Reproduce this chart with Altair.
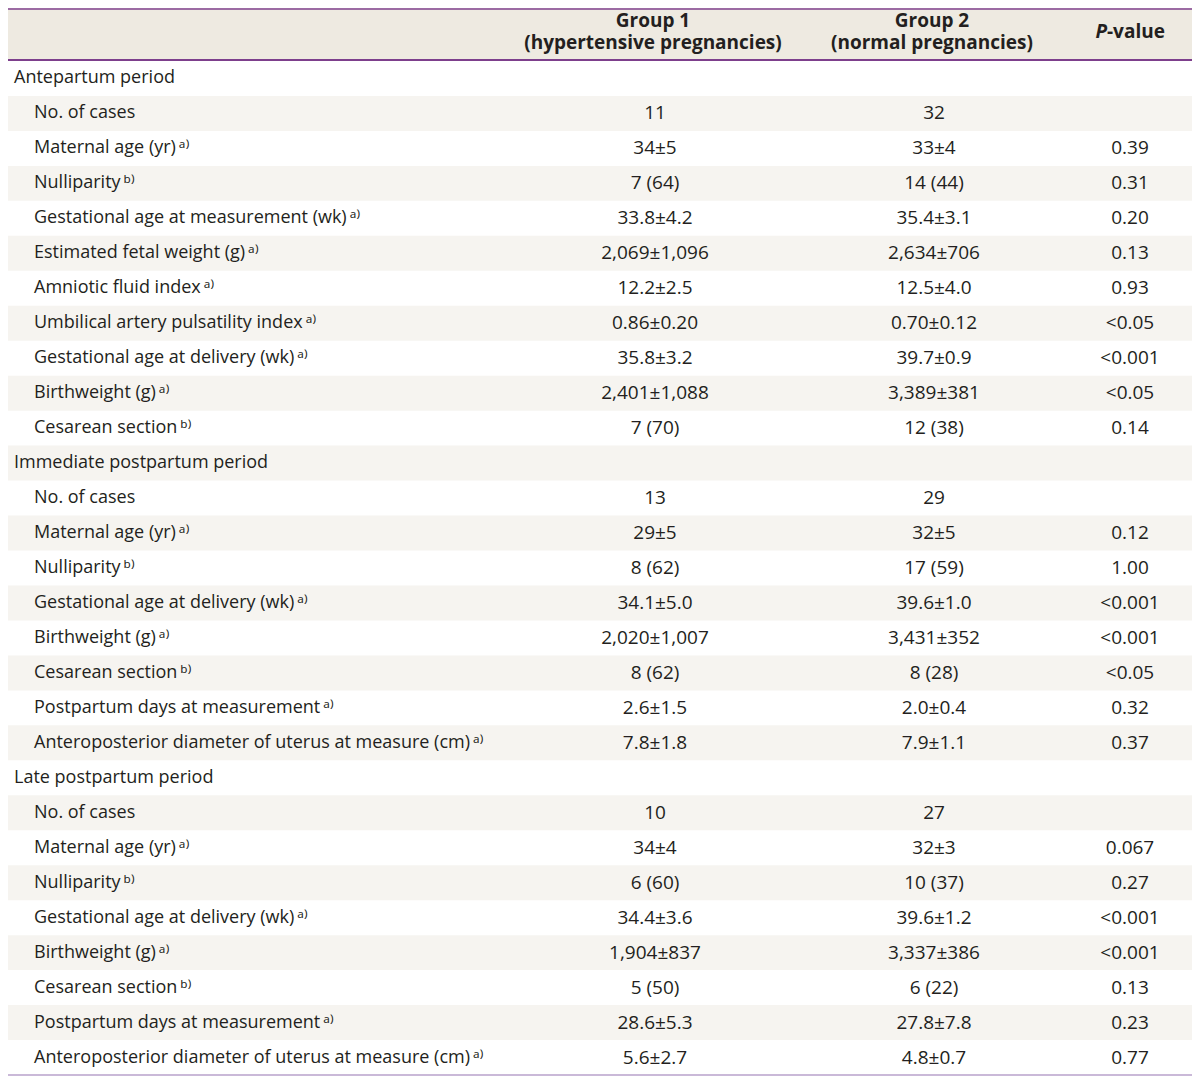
import altair as alt
import pandas as pd

# ---- table content ----
labels = [
    "Antepartum period",
    "No. of cases", "Maternal age (yr)", "Nulliparity", "Gestational age at measurement (wk)",
    "Estimated fetal weight (g)", "Amniotic fluid index", "Umbilical artery pulsatility index",
    "Gestational age at delivery (wk)", "Birthweight (g)", "Cesarean section",
    "Immediate postpartum period",
    "No. of cases", "Maternal age (yr)", "Nulliparity", "Gestational age at delivery (wk)",
    "Birthweight (g)", "Cesarean section", "Postpartum days at measurement",
    "Anteroposterior diameter of uterus at measure (cm)",
    "Late postpartum period",
    "No. of cases", "Maternal age (yr)", "Nulliparity", "Gestational age at delivery (wk)",
    "Birthweight (g)", "Cesarean section", "Postpartum days at measurement",
    "Anteroposterior diameter of uterus at measure (cm)",
]
levels = [0, 1, 1, 1, 1, 1, 1, 1, 1, 1, 1,
          0, 1, 1, 1, 1, 1, 1, 1, 1,
          0, 1, 1, 1, 1, 1, 1, 1, 1]
notes = ["", "", "a", "b", "a", "a", "a", "a", "a", "a", "b",
         "", "", "a", "b", "a", "a", "b", "a", "a",
         "", "", "a", "b", "a", "a", "b", "a", "a"]
group1 = ["", "11", "34±5", "7 (64)", "33.8±4.2", "2,069±1,096", "12.2±2.5", "0.86±0.20",
          "35.8±3.2", "2,401±1,088", "7 (70)",
          "", "13", "29±5", "8 (62)", "34.1±5.0", "2,020±1,007", "8 (62)", "2.6±1.5", "7.8±1.8",
          "", "10", "34±4", "6 (60)", "34.4±3.6", "1,904±837", "5 (50)", "28.6±5.3", "5.6±2.7"]
group2 = ["", "32", "33±4", "14 (44)", "35.4±3.1", "2,634±706", "12.5±4.0", "0.70±0.12",
          "39.7±0.9", "3,389±381", "12 (38)",
          "", "29", "32±5", "17 (59)", "39.6±1.0", "3,431±352", "8 (28)", "2.0±0.4", "7.9±1.1",
          "", "27", "32±3", "10 (37)", "39.6±1.2", "3,337±386", "6 (22)", "27.8±7.8", "4.8±0.7"]
pvalues = ["", "", "0.39", "0.31", "0.20", "0.13", "0.93", "<0.05", "<0.001", "<0.05", "0.14",
           "", "", "0.12", "1.00", "<0.001", "<0.001", "<0.05", "0.32", "0.37",
           "", "", "0.067", "0.27", "<0.001", "<0.001", "0.13", "0.23", "0.77"]
header_g1 = ["Group 1", "(hypertensive pregnancies)"]
header_g2 = ["Group 2", "(normal pregnancies)"]

sup = {"a": "\u2009\u1d43\u207e", "b": "\u2009\u1d47\u207e", "": ""}

n = len(labels)
df = pd.DataFrame({
    "row": list(range(n)),
    "label": [l + sup[s] for l, s in zip(labels, notes)],
    "level": levels,
    "g1": group1,
    "g2": group2,
    "p": pvalues,
})
df["r0"] = df["row"]
df["r1"] = df["row"] + 1
df["rc"] = df["row"] + 0.5
df["shade"] = df["row"] % 2 == 1

W, H = 1184, 1068
HEAD = 52
FONT = "Open Sans, Noto Sans, DejaVu Sans"
TXT = "#231f20"
yscale = alt.Scale(domain=[0, n], range=[HEAD + 1, H - 1])

base = alt.Chart(df)

stripes = base.transform_filter("datum.shade").mark_rect(color="#f6f4f0").encode(
    x=alt.value(0), x2=alt.value(W),
    y=alt.Y("r0:Q", scale=yscale, axis=None), y2="r1:Q")

def col_text(field, xpos, align="center", filt=None, size=18.0):
    c = base
    if filt:
        c = c.transform_filter(filt)
    return c.mark_text(align=align, baseline="middle", font=FONT, fontSize=size,
                       color=TXT).encode(
        x=alt.value(xpos),
        y=alt.Y("rc:Q", scale=yscale, axis=None),
        text=f"{field}:N")

sec_text = col_text("label", 6, align="left", filt="datum.level == 0")
item_text = col_text("label", 26, align="left", filt="datum.level == 1")
g1_text = col_text("g1", 647, size=19)
g2_text = col_text("g2", 926, size=19)
p_text = col_text("p", 1122, size=19)

hdr = pd.DataFrame({"k": [0]})
hbase = alt.Chart(hdr)
head_bg = hbase.mark_rect(color="#eeeae1").encode(
    x=alt.value(0), x2=alt.value(W), y=alt.value(0), y2=alt.value(HEAD))
top_line = hbase.mark_rule(color="#9c6ba3", strokeWidth=2).encode(
    x=alt.value(0), x2=alt.value(W), y=alt.value(1))
head_line = hbase.mark_rule(color="#7d3f8c", strokeWidth=2).encode(
    x=alt.value(0), x2=alt.value(W), y=alt.value(HEAD))
bot_line = hbase.mark_rule(color="#b9a2cb", strokeWidth=1.5).encode(
    x=alt.value(0), x2=alt.value(W), y=alt.value(H - 1))

def head_text(txt, xpos, ypos, align="center", italic=False):
    kw = dict(align=align, baseline="middle", font=FONT, fontSize=19,
              fontWeight="bold", color=TXT, lineBreak="\n", lineHeight=22)
    if italic:
        kw["fontStyle"] = "italic"
    return hbase.mark_text(**kw).encode(
        x=alt.value(xpos), y=alt.value(ypos), text=alt.value(txt))

heads = [
    head_text("\n".join(header_g1), 645, 13),
    head_text("\n".join(header_g2), 924, 13),
    head_text("P", 1099, 24, align="right", italic=True),
    head_text("-value", 1099, 24, align="left"),
]

chart = alt.layer(
    head_bg, stripes, top_line, head_line, bot_line,
    sec_text, item_text, g1_text, g2_text, p_text, *heads
).properties(width=W, height=H, padding=0, autosize="none").configure_view(stroke=None)

chart.save("out.html", embed_options={"renderer": "svg", "actions": False})
